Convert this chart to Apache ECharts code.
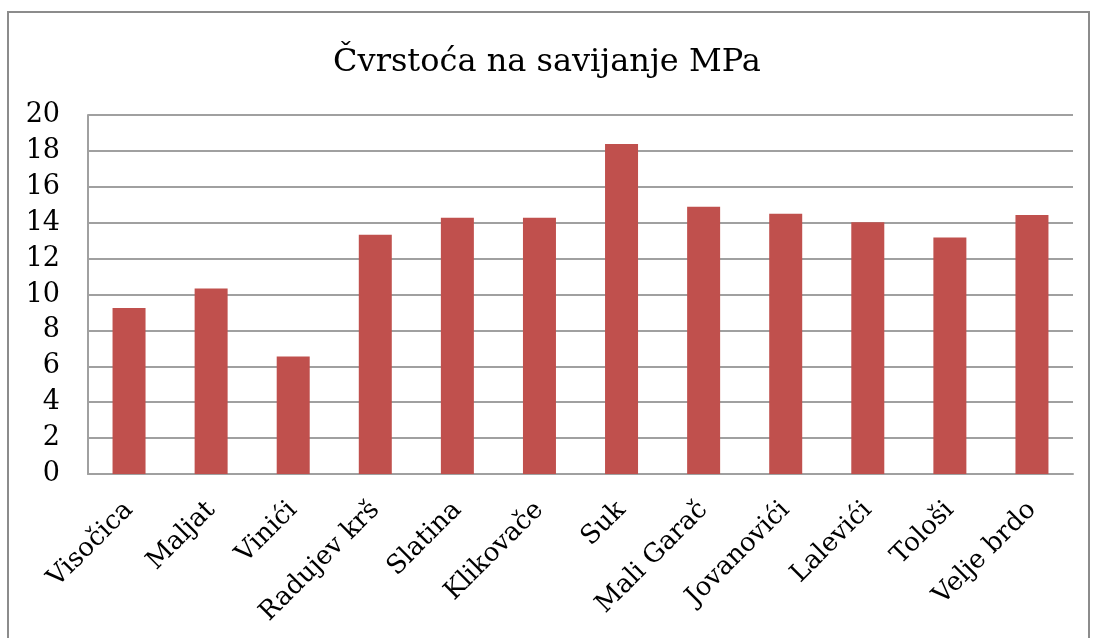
<!DOCTYPE html>
<html>
<head>
<meta charset="utf-8">
<script src="https://cdn.jsdelivr.net/npm/echarts@6/dist/echarts.min.js"></script>
<style>
  html, body { margin: 0; padding: 0; background: #fff; }
  #chart { width: 1094px; height: 638px; }
</style>
</head>
<body>
<div id="chart"></div>
<script>
  // lokacije i čvrstoća na savijanje (MPa)
  const locations = ['Visočica', 'Maljat', 'Vinići', 'Radujev krš', 'Slatina', 'Klikovače',
    'Suk', 'Mali Garač', 'Jovanovići', 'Lalevići', 'Tološi', 'Velje brdo']
  const strength = [9.25, 10.33, 6.54, 13.33, 14.28, 14.28, 18.38, 14.89, 14.5, 14.02, 13.18, 14.43]
  const yTicks = [0, 2, 4, 6, 8, 10, 12, 14, 16, 18, 20]

  const serif = '"DejaVu Serif", "Liberation Serif", serif'
  const chart = echarts.init(document.getElementById('chart'), null, { renderer: 'canvas' })

  chart.setOption({
    animation: false,
    title: {
      text: 'Čvrstoća na savijanje MPa',
      left: 'center',
      top: 42,
      textStyle: { fontFamily: serif, fontSize: 32, fontWeight: 'normal', color: '#000' }
    },
    graphic: [{
      type: 'rect',
      shape: { x: 8, y: 12, width: 1081, height: 640 },
      style: { fill: 'none', stroke: '#8c8c8c', lineWidth: 2 }
    }],
    grid: { left: 88, right: 21, top: 115, bottom: 164 },
    xAxis: {
      type: 'category',
      data: locations,
      axisTick: { show: false },
      axisLine: { lineStyle: { color: '#a0a0a0', width: 2 } },
      axisLabel: {
        rotate: 45,
        margin: 32,
        interval: 0,
        fontFamily: serif,
        fontSize: 26,
        color: '#000'
      }
    },
    yAxis: {
      type: 'value',
      min: yTicks[0],
      max: yTicks[yTicks.length - 1],
      interval: 2,
      axisLine: { show: true, lineStyle: { color: '#a0a0a0', width: 2 } },
      axisTick: { show: false },
      splitLine: { lineStyle: { color: '#a0a0a0', width: 2 } },
      axisLabel: { fontFamily: serif, fontSize: 27, color: '#000', margin: 28 }
    },
    series: [{
      type: 'bar',
      data: strength,
      barWidth: 33,
      itemStyle: { color: '#C0504D' }
    }]
  })
</script>
</body>
</html>
